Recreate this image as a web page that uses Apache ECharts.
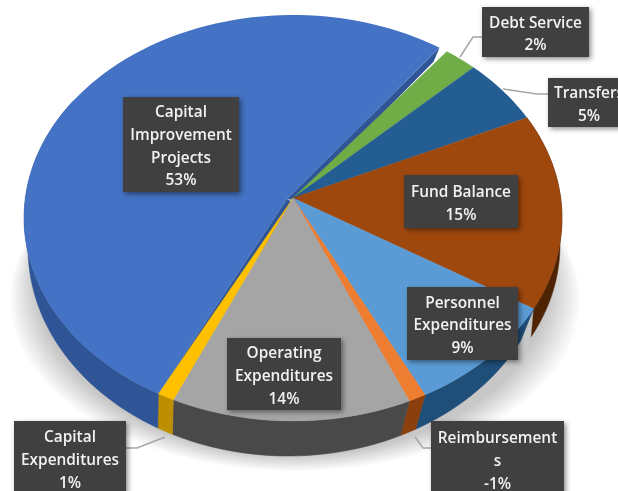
<!DOCTYPE html>
<html>
<head>
<meta charset="utf-8">
<style>html,body{margin:0;padding:0;background:#fff;overflow:hidden}#c{width:618px;height:491px}</style>
<script src="https://cdn.jsdelivr.net/npm/echarts@6/dist/echarts.min.js"></script>
</head>
<body>
<div id="c"></div>
<script>
// Data, clockwise from the top of the pie
const categories = ['Debt Service','Transfers','Fund Balance','Personnel\nExpenditures','Reimbursement\ns','Operating\nExpenditures','Capital\nExpenditures','Capital\nImprovement\nProjects'];
const values = [2,5,15,9,-1,14,1,53];
const topColors = ['#70ad47','#235d92','#9e480e','#5b9bd5','#ed7d31','#a5a5a5','#ffc000','#4472c4'];
const wallColors = ['#4f7a32','#1a4469','#4f2405','#1f4e79','#8a3f0c','#494949','#bd8e00','#2f5597'];

// Label layout: box [x, y, w, h]
const boxes = [[482,7,107,50],[548,78,82,49],[404,175,114,53],[407,287,111,73],[431,421,133,76],[227,338,114,72],[14,421,112,74],[123,97,116,95]];
const leaders = [
  [[460,57],[473,37],[482,37]],
  [[503,89],[537,94],[548,94]],
  null,null,
  [[415,437],[423,448],[431,448]],
  null,
  [[165,437],[137,448],[126,448]],
  null
];

// Projection of the tilted disc
const TOP = {cx:293, cy:218, rx:269, ry:203};
const BOT = {cx:288, cy:248, rx:260, ry:208};
const BOT_RIGHT = {cx:288, cy:245, rx:272, ry:205};
const SHADOW_IN = {cx:293, cy:280, rx:258, ry:176};
const SHADOW_OUT = {cx:295, cy:300, rx:285, ry:171};
const SHADOW_STEPS = 14;
const APEX = [293,198];
const BLUE_APEX = [287,199];
const START = 34.9;
const rad = d => d*Math.PI/180;
const warp = d => d + 3*(1+Math.cos(rad(d-215)));
const pt = (e,d) => [e.cx + e.rx*Math.sin(rad(d)), e.cy - e.ry*Math.cos(rad(d))];
const total = values.reduce((s,v)=>s+Math.abs(v),0);
const ranges = [];
let acc = 0;
values.forEach(v=>{
  const a = START + acc/total*360;
  acc += Math.abs(v);
  ranges.push([warp(a), warp(START + acc/total*360)]);
});
const arc = (e,a,b) => {
  const n = Math.max(2,Math.ceil(Math.abs(b-a)/2)), out=[];
  for(let i=0;i<=n;i++) out.push(pt(e,a+(b-a)*i/n));
  return out;
};
const last = values.length-1;
const FUND = 2;

function wallItem(params){
  const i = params.dataIndex;
  let [a,b] = ranges[i];
  if(i===last){
    const front = b-1.9, corner = pt(TOP,front);
    const band = [BLUE_APEX,corner,[corner[0]-6,corner[1]+14],[APEX[0]+4,APEX[1]+2]];
    const gap = [BLUE_APEX,pt(TOP,a),[APEX[0]+2,APEX[1]+6]];
    const w = arc(TOP,a,a+95).concat(arc(BOT,a+95,a));
    return {type:'group',children:[
      {type:'polygon',shape:{points:band},style:{fill:wallColors[i]}},
      {type:'polygon',shape:{points:gap},style:{fill:wallColors[i]}},
      {type:'polygon',shape:{points:w},style:{fill:wallColors[i],stroke:wallColors[i],lineWidth:0.5}}
    ]};
  }
  if(b < 100) return {type:'group',children:[]};
  const base = i===FUND ? BOT_RIGHT : BOT;
  const pts = arc(TOP,a,b).concat(arc(base,b,a));
  return {type:'polygon',shape:{points:pts},style:{fill:wallColors[i],stroke:wallColors[i],lineWidth:0.5}};
}
function topItem(params){
  const i = params.dataIndex;
  let [a,b] = ranges[i];
  if(i===last){
    b -= 1.9;
    return {type:'polygon',shape:{points:[BLUE_APEX].concat(arc(TOP,a,b))},style:{fill:topColors[i]}};
  }
  return {type:'polygon',shape:{points:[APEX].concat(arc(TOP,a,b))},style:{fill:topColors[i],stroke:topColors[i],lineWidth:0.3}};
}
function labelItem(params){
  const i = params.dataIndex, [x,y,w,h] = boxes[i], kids = [];
  if(leaders[i]) kids.push({type:'polyline',shape:{points:leaders[i]},style:{stroke:'#a6a6a6',lineWidth:1.5,fill:null}});
  kids.push({type:'rect',shape:{x,y,width:w,height:h},style:{fill:'#404040',shadowBlur:5,shadowOffsetX:2,shadowOffsetY:2,shadowColor:'rgba(0,0,0,0.45)'}});
  kids.push({type:'text',style:{
    text:categories[i]+'\n'+values[i]+'%',
    x:x+w/2, y:y+h/2+2.5, align:'center', verticalAlign:'middle',
    fill:'#f2f2f2', font:'600 15.4px "Open Sans"', lineHeight:22.7
  }});
  return {type:'group',children:kids};
}
function shadowItem(){
  const kids = [];
  for(let k=0;k<SHADOW_STEPS;k++){
    const f = k/(SHADOW_STEPS-1), e = {};
    Object.keys(SHADOW_IN).forEach(p=>{e[p]=SHADOW_IN[p]+(SHADOW_OUT[p]-SHADOW_IN[p])*f;});
    kids.push({type:'polygon',shape:{points:arc(e,0,360)},style:{fill:'rgba(0,0,0,0.017)'}});
  }
  return {type:'group',children:kids};
}

const idx = values.map((_,i)=>i);
const mk = (fn,z,data) => ({type:'custom',coordinateSystem:'none',renderItem:fn,data:data||idx,z,silent:true,clip:false});
const chart = echarts.init(document.getElementById('c'),null,{renderer:'canvas',width:618,height:491});
chart.setOption({
  animation:false,
  backgroundColor:'#ffffff',
  tooltip:{show:false},
  series:[mk(shadowItem,1,[0]),mk(wallItem,2),mk(topItem,3),mk(labelItem,4)]
});
</script>
</body>
</html>
